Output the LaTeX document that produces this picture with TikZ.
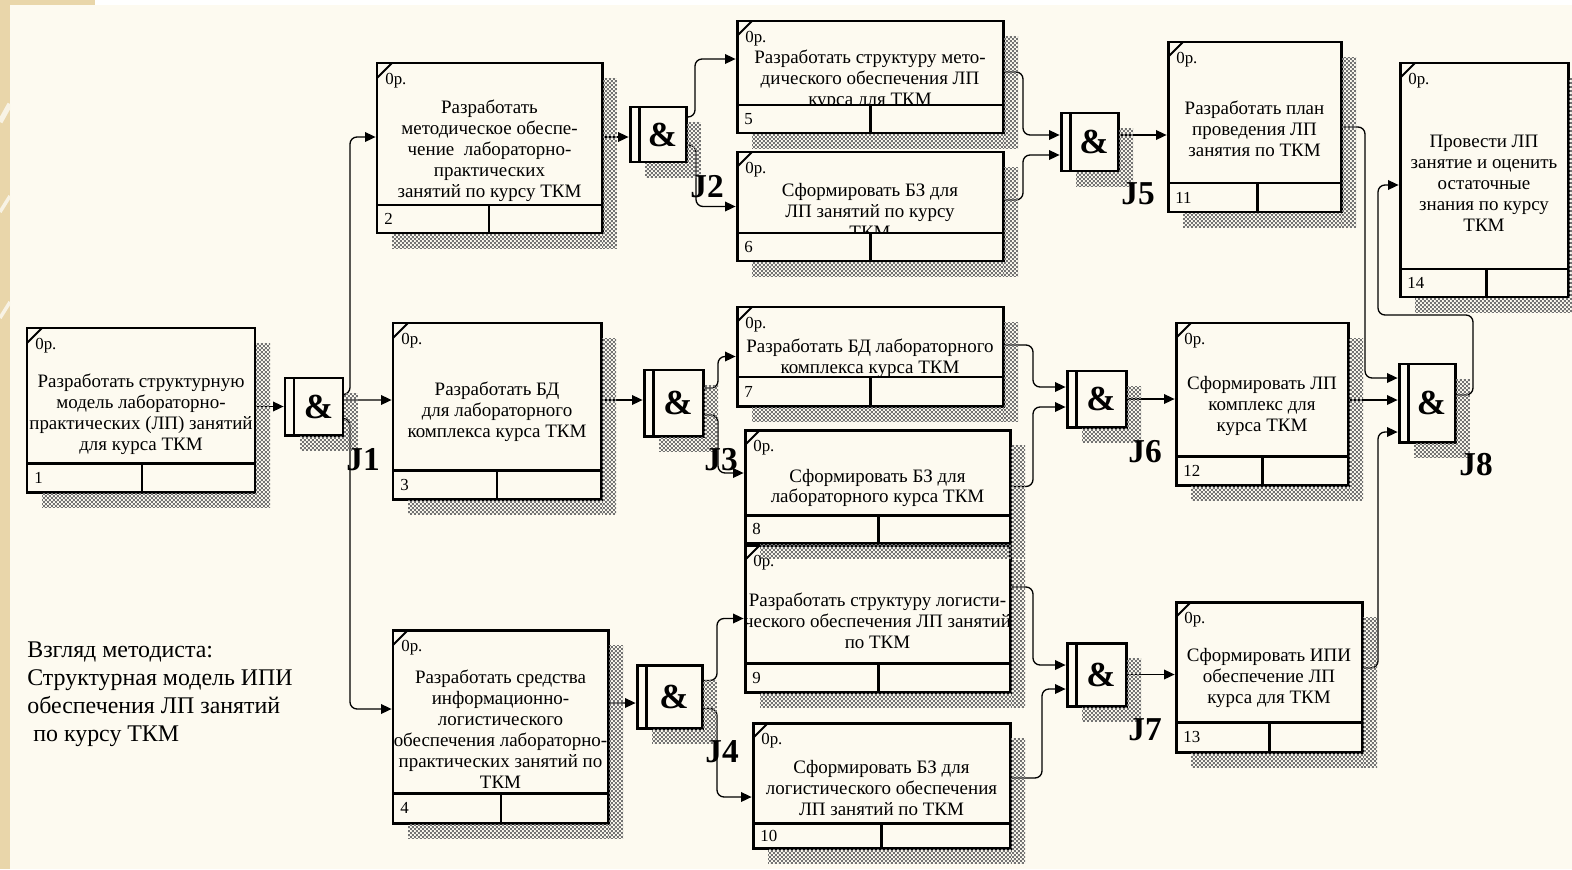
\documentclass[tikz,border=0pt]{standalone}
\usepackage{fontspec}
\setmainfont{Liberation Serif}
\usetikzlibrary{arrows.meta,fit,patterns}

\definecolor{paper}{RGB}{253,250,240}
\definecolor{strip}{RGB}{233,214,170}
\definecolor{shade}{RGB}{115,115,115}

% one pixel of the drawing grid
\newdimen\pxu \pxu=0.02cm

% fine checkered dither used for drop shadows
\pgfdeclarepatternformonly{dither}{\pgfpointorigin}{\pgfpoint{2.268pt}{2.268pt}}{\pgfpoint{2.268pt}{2.268pt}}{%
  \pgfpathrectangle{\pgfpointorigin}{\pgfpoint{1.134pt}{1.134pt}}%
  \pgfpathrectangle{\pgfpoint{1.134pt}{1.134pt}}{\pgfpoint{1.134pt}{1.134pt}}%
  \pgfusepath{fill}}

\pgfdeclarelayer{bg}
\pgfdeclarelayer{wires}
\pgfdeclarelayer{shade}
\pgfdeclarelayer{labels}
\pgfsetlayers{bg,wires,main,shade,labels}

\tikzset{
  frame/.style={line width=1.7pt},
  tick/.style={line width=1.1pt},
  conn/.style={line width=0.75pt, rounded corners=4pt, shorten >=0.8pt,
    -{Triangle[length=6pt,width=5.5pt]}},
  body/.style={inner sep=0pt, outer sep=0pt, fill=paper},
  boxtext/.style={align=center, inner sep=0pt, font=\fontsize{10.8pt}{11.9pt}\selectfont},
  cornerlbl/.style={anchor=west, inner sep=0pt, font=\fontsize{9.6pt}{11pt}\selectfont},
  numlbl/.style={anchor=west, inner sep=0pt, font=\fontsize{9.6pt}{11pt}\selectfont},
  amp/.style={inner sep=0pt, font=\fontsize{20pt}{22pt}\selectfont\bfseries},
  jlbl/.style={inner sep=0pt, font=\fontsize{19pt}{21pt}\selectfont\bfseries},
  caption/.style={align=left, inner sep=0pt, anchor=west, font=\fontsize{13.6pt}{15.9pt}\selectfont},
  shadow/.style={pattern=dither, pattern color=shade},
}

% unit of behaviour: x0,y0,x1,y1, strip top, divider x, number, text centre y, text
\newcommand\uob[9]{%
  \node[body, fit={(#1,#2) (#3,#4)}] (b#7) {};
  \begin{scope}
    \clip (#1,#2) rectangle (#3,#5);
    \node[boxtext] at ({(#1+#3)/2},#8) {#9};
  \end{scope}
  \node[cornerlbl] at (#1+8,#2+18) {0р.};
  \node[numlbl] at (#1+7,{(#5+#4)/2}) {#7};
  \draw[tick] (#1,#2+15) -- (#1+15,#2);
  \draw[frame] (#1,#5) -- (#3,#5) (#6,#5) -- (#6,#4);
  \draw[frame] (b#7.north west) rectangle (b#7.south east);
  \begin{pgfonlayer}{shade}
    \fill[shadow] (#3+1,#2+15) rectangle (#3+15,#4+15);
    \fill[shadow] (#1+15,#4+1) rectangle (#3+1,#4+15);
  \end{pgfonlayer}
}

% AND junction: name, x0,y0,x1,y1, label x, label y, label
\newcommand\junc[8]{%
  \node[body, fit={(#2,#3) (#4,#5)}] (#1) {};
  \node[amp] at ({(#2+9+#4)/2},{(#3+#5)/2}) {\&};
  \draw[frame] (#2+9,#3) -- (#2+9,#5);
  \draw[frame] (#1.north west) rectangle (#1.south east);
  \begin{pgfonlayer}{shade}
    \fill[shadow] (#4+1,#3+15) rectangle (#4+15,#5+15);
    \fill[shadow] (#2+15,#5+1) rectangle (#4+1,#5+15);
  \end{pgfonlayer}
  \begin{pgfonlayer}{labels}
    \node[jlbl] (#1lbl) at (#6,#7) {#8};
  \end{pgfonlayer}
}

\begin{document}
\begin{tikzpicture}[x=0.02cm, y=-0.02cm]
\useasboundingbox (0,0) rectangle (1572,869);

% page background
\begin{pgfonlayer}{bg}
  \fill[strip] (0,0) rectangle (1572,869);
  \fill[white] (95,0) rectangle (1572,5);
  \fill[paper] (10,5) rectangle (1572,869);
  \begin{scope}
    \clip (0,0) rectangle (10,869);
    \draw[line width=3pt, white!70!strip] (0,122) -- (10,104);
    \draw[line width=2pt, white!70!strip] (0,212) -- (10,196);
    \draw[line width=2pt, white!70!strip] (0,318) -- (10,302);
  \end{scope}
\end{pgfonlayer}

% units of behaviour
\uob{27}{328}{255}{492}{463}{142}{1}{414}{Разработать структурную\\модель лабораторно-\\практических (ЛП) занятий\\для курса ТКМ}
\uob{377}{63}{602}{233}{205}{489}{2}{151}{Разработать\\методическое обеспе-\\чение\ \ лабораторно-\\практических\\занятий по курсу ТКМ}
\uob{393}{323}{601}{499}{470}{497}{3}{412}{Разработать БД\\для лабораторного\\комплекса курса ТКМ}
\uob{393}{630}{608}{823}{793}{501}{4}{729}{Разработать средства\\информационно-\\логистического\\обеспечения лабораторно-\\практических занятий по\\ТКМ}
\uob{737}{21}{1003}{133}{105}{870}{5}{80}{Разработать структуру мето-\\дического обеспечения ЛП\\курса для ТКМ}
\uob{737}{152}{1003}{261}{233}{870}{6}{211}{Сформировать БЗ для\\ЛП занятий по курсу\\ТКМ}
\uob{737}{307}{1003}{406}{377}{870}{7}{358}{Разработать БД лабораторного\\комплекса курса ТКМ}
\uob{745}{430}{1010}{543}{515}{878}{8}{488}{Сформировать БЗ для\\лабораторного курса ТКМ}
\uob{745}{545}{1010}{692}{663}{878}{9}{621}{Разработать структуру логисти-\\ческого обеспечения ЛП занятий\\по ТКМ}
\uob{753}{723}{1010}{848}{823}{881}{10}{788}{Сформировать БЗ для\\логистического обеспечения\\ЛП занятий по ТКМ}
\uob{1168}{42}{1341}{212}{183}{1257}{11}{129}{Разработать план\\проведения ЛП\\занятия по ТКМ}
\uob{1176}{323}{1348}{485}{456}{1262}{12}{406}{Сформировать ЛП\\комплекс для\\курса ТКМ}
\uob{1176}{602}{1362}{752}{722}{1269}{13}{678}{Сформировать ИПИ\\обеспечение ЛП\\курса для ТКМ}
\uob{1400}{63}{1568}{297}{269}{1486}{14}{183}{Провести ЛП\\занятие и оценить\\остаточные\\знания по курсу\\ТКМ}

% junctions
\junc{j1}{285}{378}{343}{435}{363}{460}{J1}
\junc{j2}{630}{107}{686}{162}{707}{187}{J2}
\junc{j3}{644}{370}{703}{436}{721}{460}{J3}
\junc{j4}{637}{665}{702}{728}{722}{752}{J4}
\junc{j5}{1061}{113}{1118}{171}{1138}{194}{J5}
\junc{j6}{1067}{371}{1126}{427}{1145}{452}{J6}
\junc{j7}{1067}{643}{1126}{706}{1145}{730}{J7}
\junc{j8}{1399}{364}{1455}{442}{1476}{465}{J8}

% caption
\node[caption] (cap) at (27,694) {Взгляд методиста:\\Структурная модель ИПИ\\обеспечения ЛП занятий\\\ по курсу ТКМ};

% precedence links
\begin{pgfonlayer}{wires}
  \draw[conn] (b1.east |- j1.west) -- (j1.west);
  \draw[conn] ([yshift=12*\pxu]j1.east) -- ++(7,0) |- ([yshift=11*\pxu]b2.west);
  \draw[conn] ([yshift=6.5*\pxu]j1.east) -- ([yshift=11*\pxu]b3.west);
  \draw[conn] ([yshift=-12*\pxu]j1.east) -- ++(7,0) |- ([yshift=17.5*\pxu]b4.west);

  \draw[conn] ([yshift=11*\pxu]b2.east) -- ([yshift=-2.5*\pxu]j2.west);
  \draw[conn] ([yshift=17.5*\pxu]j2.east) -- ++(9,0) |- ([yshift=18*\pxu]b5.west);
  \draw[conn] ([yshift=-10.5*\pxu]j2.east) -- ++(10,0) |- (b6.west);
  \draw[conn] ([yshift=5*\pxu]b5.east) -- ++(20,0) |- ([yshift=7*\pxu]j5.west);
  \draw[conn] ([yshift=6.5*\pxu]b6.east) -- ++(20,0) |- ([yshift=-13*\pxu]j5.west);
  \draw[conn] ([yshift=7*\pxu]j5.east) -- ([yshift=-8*\pxu]b11.west);

  \draw[conn] ([yshift=11*\pxu]b3.east) -- ([yshift=3*\pxu]j3.west);
  \draw[conn] ([yshift=15*\pxu]j3.east) -- ++(15,0) |- (b7.west);
  \draw[conn] ([yshift=-12*\pxu]j3.east) -- ++(15,0) |- ([yshift=13.5*\pxu]b8.west);
  \draw[conn] ([yshift=11.5*\pxu]b7.east) -- ++(30,0) |- ([yshift=12*\pxu]j6.west);
  \draw[conn] (b8.east) -- ++(23,0) |- ([yshift=-8*\pxu]j6.west);
  \draw[conn] (j6.east) -- (b12.west |- j6.east);

  \draw[conn] ([yshift=23.5*\pxu]b4.east) -- ([yshift=-6.5*\pxu]j4.west);
  \draw[conn] ([yshift=16*\pxu]j4.east) -- ++(15,0) |- (b9.west);
  \draw[conn] ([yshift=-12*\pxu]j4.east) -- ++(15,0) |- ([yshift=-11.5*\pxu]b10.west);
  \draw[conn] ([yshift=31.5*\pxu]b9.east) -- ++(23,0) |- ([yshift=9.5*\pxu]j7.west);
  \draw[conn] ([yshift=7.5*\pxu]b10.east) -- ++(32,0) |- ([yshift=-14.5*\pxu]j7.west);
  \draw[conn] (j7.east) -- (b13.west |- j7.east);

  \draw[conn] (b11.east) -- ++(24,0) |- ([yshift=25*\pxu]j8.west);
  \draw[conn] ([yshift=4*\pxu]b12.east) -- ([yshift=3*\pxu]j8.west);
  \draw[conn] ([yshift=9*\pxu]b13.east) -- ++(16,0) |- ([yshift=-29*\pxu]j8.west);
  \draw[conn] ([yshift=8*\pxu]j8.east) -- ++(18,0) -- ++(0,-80) -- ++(-95,0) |- ([yshift=-5*\pxu]b14.west);
\end{pgfonlayer}
\end{tikzpicture}
\end{document}
